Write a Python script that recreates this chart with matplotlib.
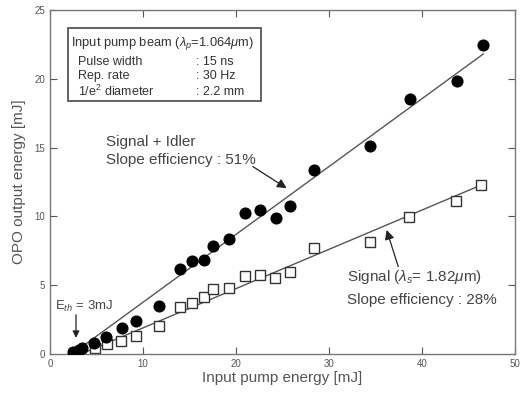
import numpy as np
import matplotlib.pyplot as plt

plt.rcParams['font.family'] = ['Liberation Sans', 'DejaVu Sans']
plt.rcParams['mathtext.fontset'] = 'custom'
plt.rcParams['mathtext.rm'] = 'Liberation Sans'
plt.rcParams['mathtext.it'] = 'Liberation Sans:italic'

# Signal + Idler (filled circles)
pump_si = [2.5, 3.1, 3.4, 4.7, 6.0, 7.7, 9.2, 11.7, 14.0, 15.3, 16.6, 17.5,
           19.3, 21.0, 22.6, 24.3, 25.8, 28.4, 34.4, 38.7, 43.8, 46.6]
out_si = [0.15, 0.3, 0.42, 0.78, 1.22, 1.88, 2.36, 3.46, 6.2, 6.75, 6.8, 7.85,
          8.33, 10.28, 10.45, 9.87, 10.77, 13.4, 15.15, 18.57, 19.83, 22.46]

# Signal only (open squares)
pump_s = [2.6, 3.2, 4.8, 6.1, 7.6, 9.2, 11.7, 14.0, 15.3, 16.6, 17.5, 19.3,
          21.0, 22.6, 24.2, 25.8, 28.4, 34.4, 38.6, 43.7, 46.4]
out_s = [0.05, 0.15, 0.45, 0.7, 0.9, 1.3, 2.05, 3.41, 3.7, 4.12, 4.73, 4.8,
         5.65, 5.77, 5.53, 5.94, 7.73, 8.14, 9.99, 11.13, 12.28]

# linear fits: (threshold, slope, end)
fit_si = (2.4, 0.494, 46.6)
fit_s = (3.4, 0.286, 46.4)

box_head = 'Input pump beam ($\\lambda_p$=1.064$\\mu$m)'
box_names = ['Pulse width', 'Rep. rate', '1/e$^2$ diameter']
box_values = [': 15 ns', ': 30 Hz', ': 2.2 mm']

fig = plt.figure(figsize=(5.26, 4.03), dpi=100)
ax = fig.add_axes([0.095, 0.122, 0.884, 0.852])

for thr, slope, end in [fit_si, fit_s]:
    xx = np.array([thr, end])
    ax.plot(xx, slope * (xx - thr), color='#555555', lw=1.0, zorder=1)

ax.plot(pump_s, out_s, 's', mfc='white', mec='#333333', mew=1.0, ms=7.5, zorder=2)
ax.plot(pump_si, out_si, 'o', color='black', ms=7.7, zorder=3)

ax.set_xlim(0, 50)
ax.set_ylim(0, 25)
ax.set_xticks([0, 10, 20, 30, 40, 50])
ax.set_yticks([0, 5, 10, 15, 20, 25])
ax.tick_params(direction='in', top=True, right=True, labelsize=7,
               colors='#555555', length=5, width=0.8)
for s in ax.spines.values():
    s.set_color('#777777')
    s.set_linewidth(1.0)

ax.set_xlabel('Input pump energy [mJ]', fontsize=11, color='#555555', labelpad=2)
ax.set_ylabel('OPO output energy [mJ]', fontsize=11, color='#555555', labelpad=6)

# parameter box
tc = '#333333'
ax.add_patch(plt.Rectangle((1.97, 18.43), 20.7, 5.27, fc='white', ec='#555555',
                           lw=1.3, zorder=4))
ax.text(2.3, 22.63, box_head, fontsize=9.3, color=tc, va='center', ha='left', zorder=5)
for yy, name, val in zip([21.27, 20.23, 19.09], box_names, box_values):
    ax.text(3.05, yy, name, fontsize=9, color=tc, va='center', ha='left', zorder=5)
    ax.text(15.7, yy, val, fontsize=9, color=tc, va='center', ha='left', zorder=5)

# labels
lc = '#444444'
ax.text(6.0, 15.45, 'Signal + Idler', fontsize=11, color=lc, va='center')
ax.text(6.0, 14.12, 'Slope efficiency : 51%', fontsize=11, color=lc, va='center')
ax.text(31.9, 5.63, 'Signal ($\\lambda_s$= 1.82$\\mu$m)', fontsize=11, color=lc, va='center')
ax.text(31.9, 3.93, 'Slope efficiency : 28%', fontsize=11, color=lc, va='center')
ax.text(0.5, 3.44, 'E$_{th}$ = 3mJ', fontsize=9.5, color=lc, va='center')

arrow = dict(arrowstyle='-|>', color='#222222', lw=0.9, shrinkA=0, shrinkB=0,
             mutation_scale=14)
ax.annotate('', xy=(25.45, 12.06), xytext=(21.83, 13.63), arrowprops=arrow)
ax.annotate('', xy=(36.2, 9.02), xytext=(37.45, 6.35), arrowprops=arrow)
ax.annotate('', xy=(2.8, 1.16), xytext=(2.8, 2.84),
            arrowprops=dict(arrow, mutation_scale=10))

fig.savefig('out.png', dpi=100)
